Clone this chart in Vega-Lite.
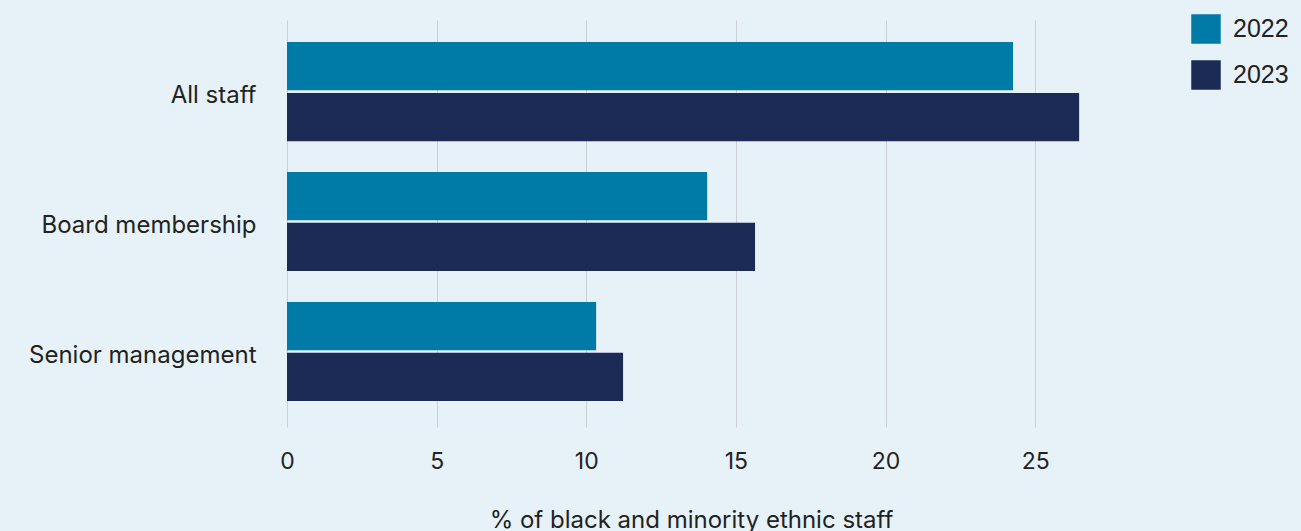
{
  "$schema": "https://vega.github.io/schema/vega-lite/v6.json",
  "width": 808,
  "height": 407,
  "autosize": "none",
  "padding": {"left": 287, "top": 20, "right": 206, "bottom": 104},
  "background": "#e7f2f8",
  "data": {
    "values": [
      {"category": "All staff", "year": "2022", "value": 24.26},
      {"category": "All staff", "year": "2023", "value": 26.47},
      {"category": "Board membership", "year": "2022", "value": 14.04},
      {"category": "Board membership", "year": "2023", "value": 15.64},
      {"category": "Senior management", "year": "2022", "value": 10.33},
      {"category": "Senior management", "year": "2023", "value": 11.23}
    ]
  },
  "mark": {"type": "bar"},
  "encoding": {
    "y": {
      "field": "category",
      "type": "nominal",
      "sort": ["All staff", "Board membership", "Senior management"],
      "scale": {"paddingInner": 0.238, "paddingOuter": 0.185, "align": 0.46},
      "axis": {
        "title": null,
        "ticks": false,
        "domain": false,
        "grid": false,
        "labelPadding": 31,
        "labelLimit": 400,
        "labelOffset": 4,
        "labelFont": "Inter",
        "labelFontSize": 24,
        "labelColor": "#222222"
      }
    },
    "yOffset": {
      "field": "year",
      "type": "nominal",
      "scale": {"paddingInner": 0.05, "paddingOuter": 0}
    },
    "x": {
      "field": "value",
      "type": "quantitative",
      "scale": {"domain": [0, 27], "nice": false},
      "axis": {
        "title": "% of black and minority ethnic staff",
        "values": [0, 5, 10, 15, 20, 25],
        "ticks": false,
        "domain": false,
        "grid": true,
        "gridColor": "#c9cfd2",
        "gridWidth": 1,
        "labelFlush": false,
        "labelPadding": 23,
        "labelFont": "Inter",
        "labelFontSize": 23,
        "labelColor": "#222222",
        "titleFont": "Inter",
        "titleFontSize": 24,
        "titleFontWeight": "normal",
        "titleColor": "#222222",
        "titlePadding": 35
      }
    },
    "color": {
      "field": "year",
      "type": "nominal",
      "scale": {"domain": ["2022", "2023"], "range": ["#007ba7", "#1b2b56"]},
      "legend": {
        "title": null,
        "orient": "none",
        "legendX": 904,
        "legendY": -6,
        "symbolType": "square",
        "symbolSize": 870,
        "symbolStrokeWidth": 0,
        "symbolOpacity": 1,
        "labelFont": "Liberation Sans",
        "labelFontSize": 25,
        "labelColor": "#222222",
        "labelOffset": 12,
        "rowPadding": 16
      }
    }
  },
  "config": {
    "view": {"stroke": null}
  }
}
